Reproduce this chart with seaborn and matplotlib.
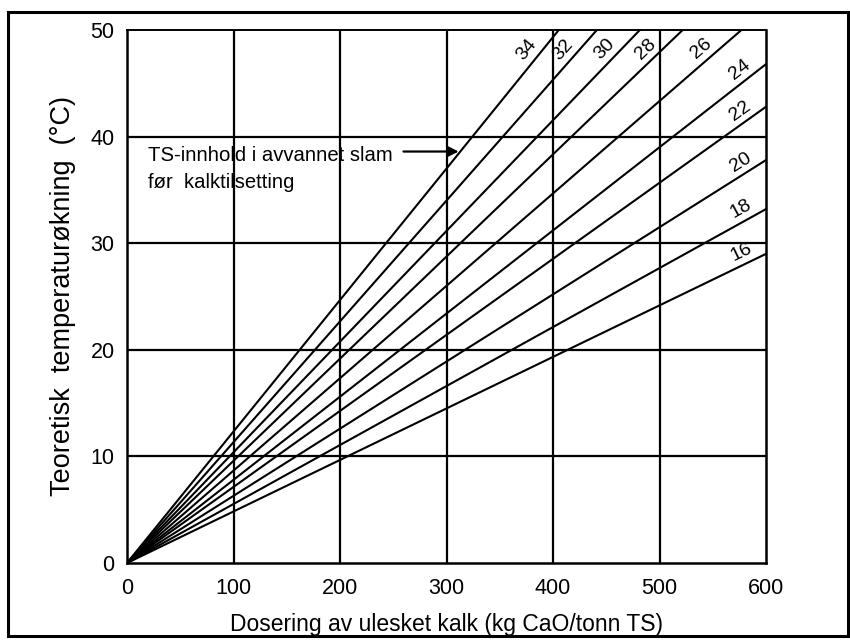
import math
import numpy as np
import pandas as pd
import matplotlib
matplotlib.use("Agg")
import matplotlib.pyplot as plt
from matplotlib.patches import Rectangle
import seaborn as sns

# ---- data ----
ts_levels = [16, 18, 20, 22, 24, 26, 28, 30, 32, 34]           # TS content (%)
temp_at_600 = [29.0, 33.2, 37.8, 42.8, 46.8, 52.0, 57.5, 62.3, 68.0, 74.0]  # degC at 600 kg
dose_points = [0, 600]
x_ticks = [0, 100, 200, 300, 400, 500, 600]
y_ticks = [0, 10, 20, 30, 40, 50]
x_label = "Dosering av ulesket kalk (kg CaO/tonn TS)"
y_label = "Teoretisk  temperaturøkning  (°C)"
note_text = "TS-innhold i avvannet slam\nfør  kalktilsetting"

rows = []
for ts, t600 in zip(ts_levels, temp_at_600):
    for d, t in zip(dose_points, [0.0, t600]):
        rows.append({"dose": d, "temp": t, "TS": ts})
df = pd.DataFrame(rows)

sns.set_theme(style="white")
plt.rcParams["font.family"] = ["Liberation Sans", "DejaVu Sans"]

W, H = 850, 642
fig = plt.figure(figsize=(W / 100, H / 100), dpi=100)
ax_l, ax_r, ax_t, ax_b = 127, 766, 30, 563
ax = fig.add_axes([ax_l / W, 1 - ax_b / H, (ax_r - ax_l) / W, (ax_b - ax_t) / H])

# grid
for xv in x_ticks[1:-1]:
    ax.axvline(xv, color="black", lw=1.6, zorder=1)
for yv in y_ticks[1:-1]:
    ax.axhline(yv, color="black", lw=1.6, zorder=1)

sns.lineplot(data=df, x="dose", y="temp", hue="TS",
             palette={t: "black" for t in ts_levels}, legend=False,
             lw=1.5, ax=ax, zorder=2)

ax.set_xlim(0, 600)
ax.set_ylim(0, 50)
ax.set_xticks(x_ticks)
ax.set_yticks(y_ticks)
ax.tick_params(axis="both", direction="out", length=6, width=1.4, color="black",
               labelsize=15.5, labelcolor="black")
ax.tick_params(axis="x", pad=5)
ax.tick_params(axis="y", pad=3)
for s in ["left", "bottom", "right"]:
    ax.spines[s].set_color("black")
    ax.spines[s].set_linewidth(1.8)
ax.spines["top"].set_color("black")
ax.spines["top"].set_linewidth(1.4)
ax.set_xlabel(x_label, fontsize=16.5, color="black", labelpad=10)
ax.set_ylabel(y_label, fontsize=19.5, color="black", labelpad=10)

# line labels near the top/right ends
px_per_x = (ax_r - ax_l) / 600
px_per_y = (ax_b - ax_t) / 50
off = 12.0
for ts, t600 in zip(ts_levels, temp_at_600):
    slope = t600 / 600
    xa = min(582, 47.4 / slope)
    ya = slope * xa
    a = math.atan(slope * px_per_y / px_per_x)
    xl = xa - off * math.sin(a) / px_per_x
    yl = ya + off * math.cos(a) / px_per_y
    ax.text(xl, yl, str(ts), rotation=math.degrees(a), rotation_mode="anchor",
            ha="center", va="center", fontsize=14, color="black", zorder=3)

ax.text(19.5, 39.1, note_text, fontsize=14.6, color="black", va="top",
        ha="left", linespacing=1.55, zorder=3)
ax.annotate("", xy=(314, 38.6), xytext=(257, 38.6),
            arrowprops=dict(arrowstyle="-|>", color="black", lw=1.6,
                            mutation_scale=16), zorder=3)

# outer frame
fig.patches.append(Rectangle((8 / W, 6 / H), 840 / W, (H - 12 - 6) / H,
                             transform=fig.transFigure, fill=False,
                             edgecolor="black", lw=2.2))

fig.savefig("out.png", dpi=100, facecolor="white")
